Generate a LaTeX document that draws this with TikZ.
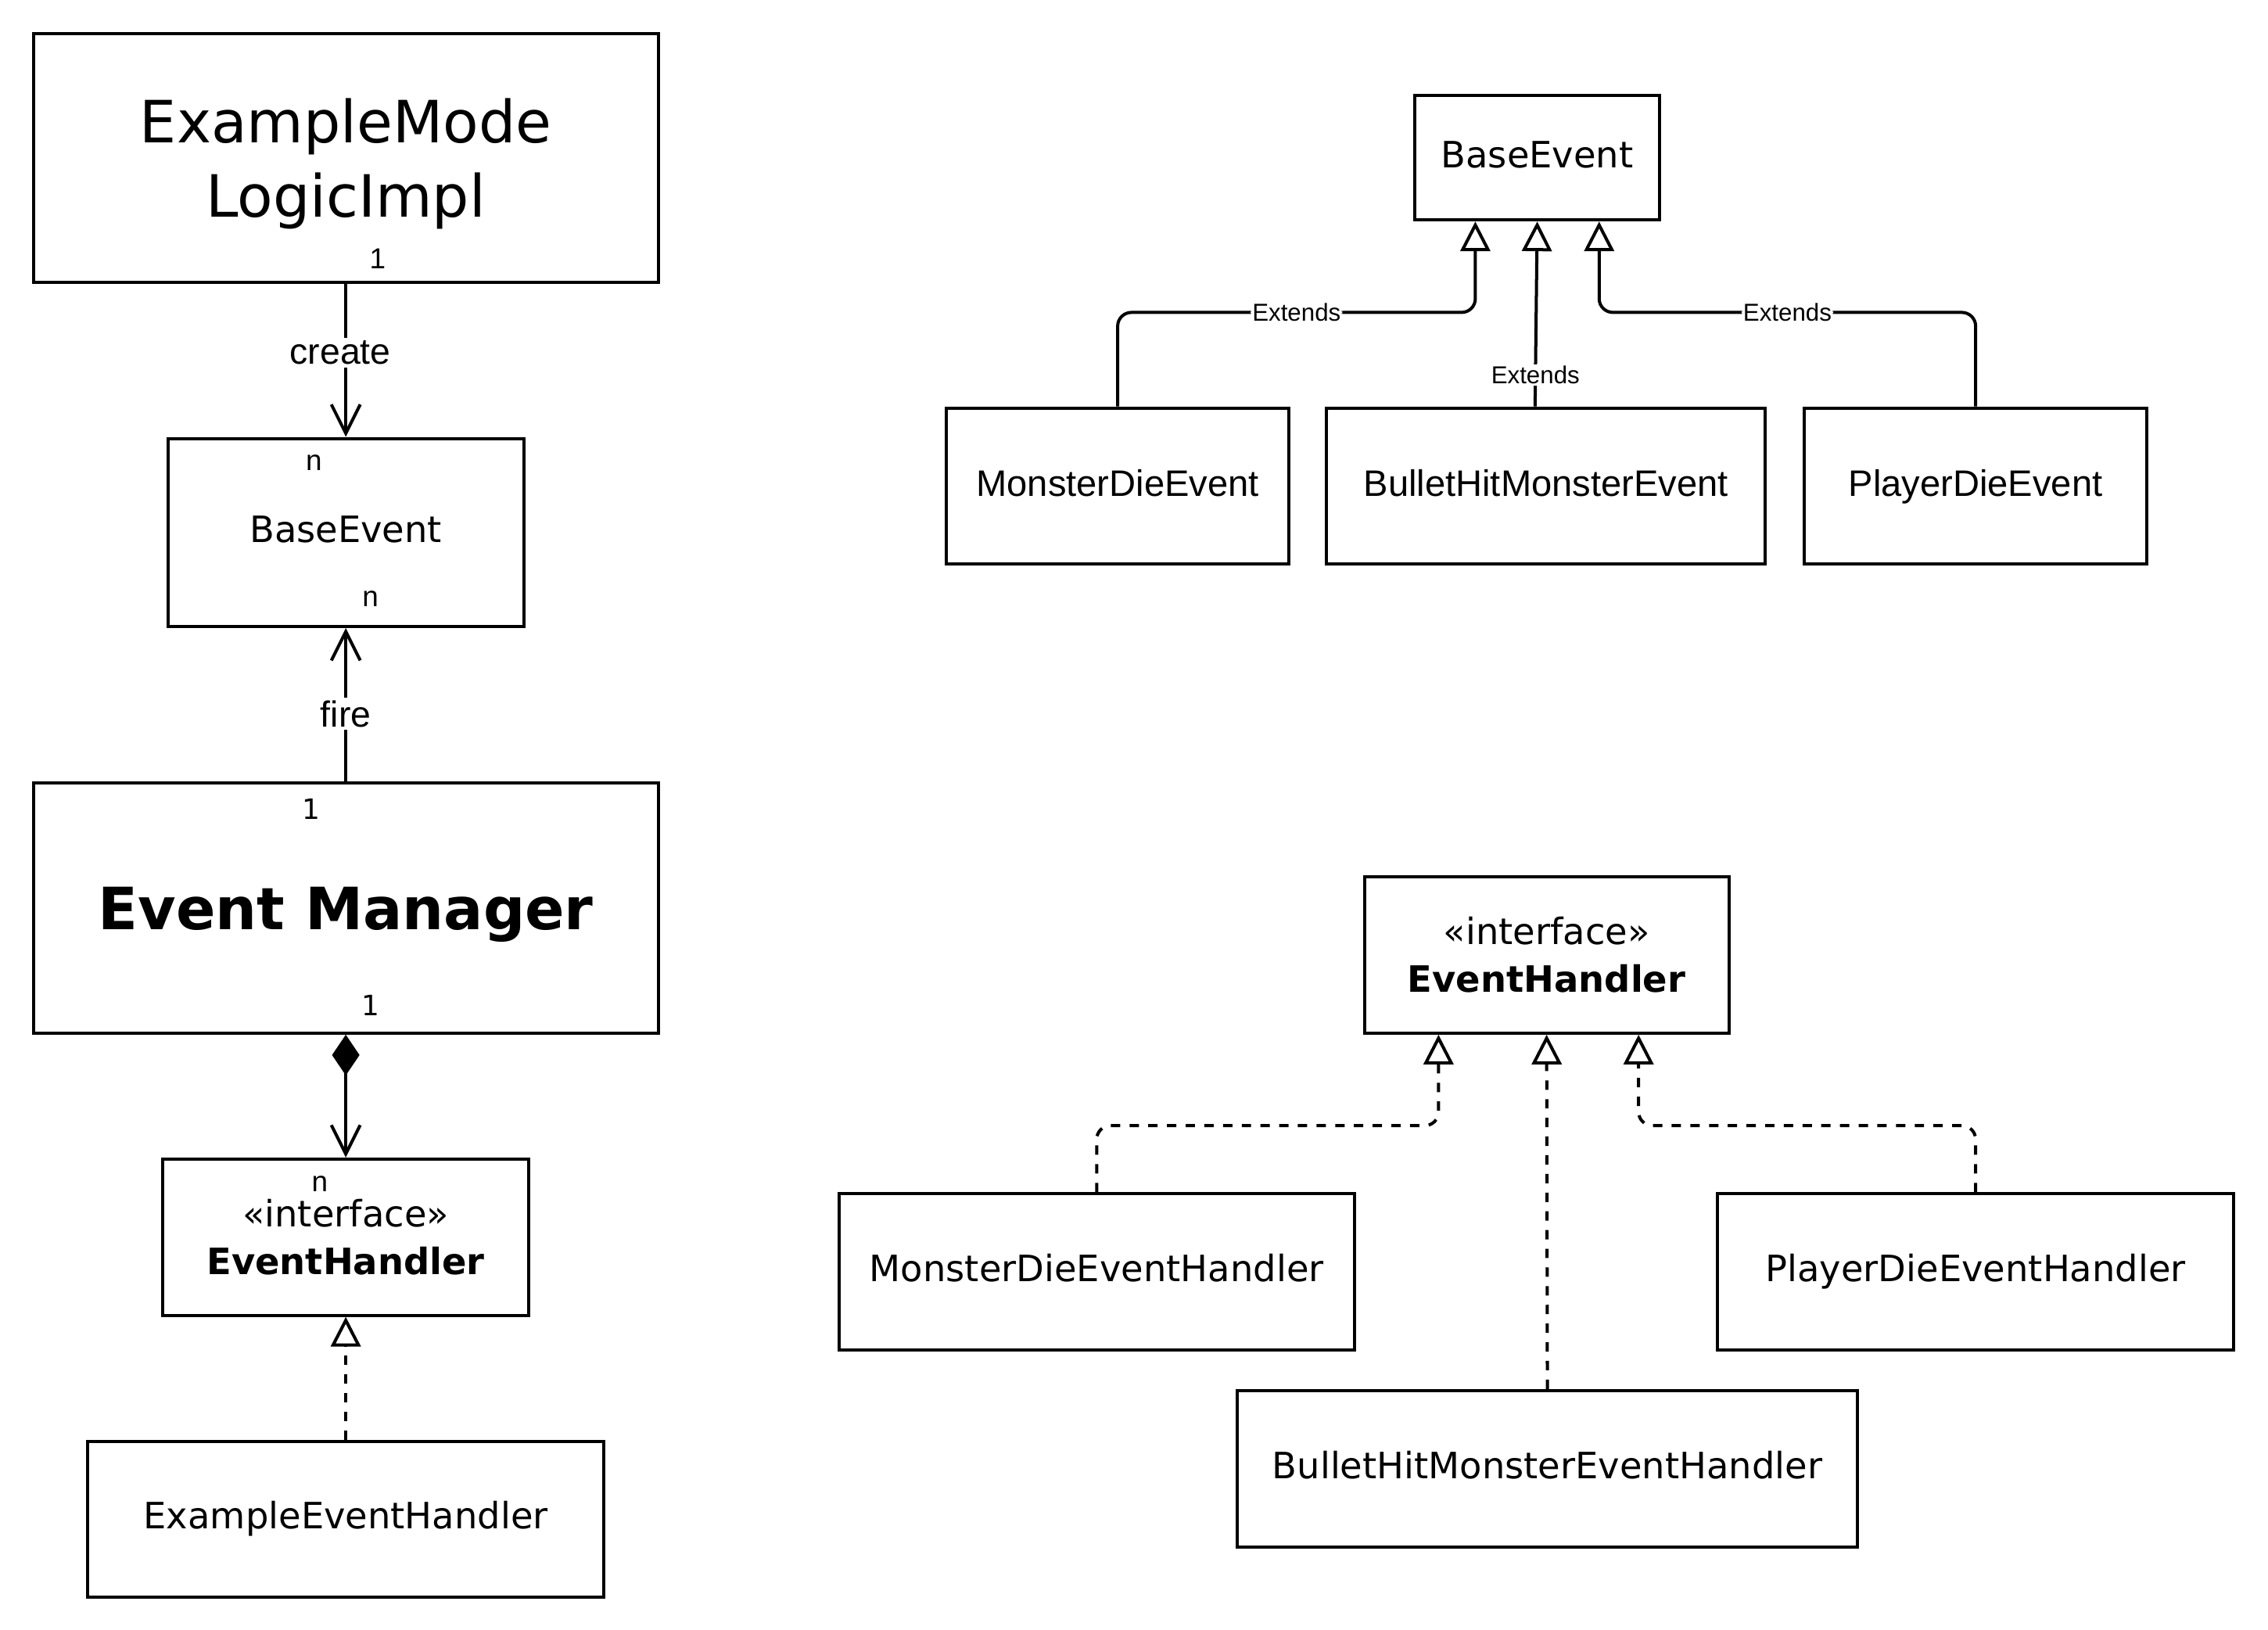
\documentclass[tikz,border=0pt]{standalone}
\usepackage{fontspec}
\setmainfont{DejaVu Sans}
\newfontfamily\arialfont{Liberation Sans}
\usetikzlibrary{arrows.meta,calc}

\begin{document}
\begin{tikzpicture}[x=0.0185cm,y=-0.0185cm,
  box/.style={draw, line width=1.14pt, inner sep=0pt, align=center, font=\fontsize{13.2}{17.4}\selectfont},
  boxsize/.style 2 args={minimum width=#1*0.0185cm, minimum height=#2*0.0185cm},
  oneline/.style={text height=0.94em, text depth=0.23em},
  evbox/.style={box, oneline, font=\arialfont\fontsize{13.4}{16}\selectfont},
  mult/.style={font=\arialfont\fontsize{10.5}{12}\selectfont, inner sep=0pt},
  multdv/.style={font=\fontsize{10.2}{12}\selectfont, inner sep=0pt},
  lbl/.style={font=\arialfont\fontsize{13.2}{15}\selectfont, fill=white, inner sep=1pt},
  extlbl/.style={font=\arialfont\fontsize{8.9}{10}\selectfont, fill=white, inner sep=0.6pt},
  conn/.style={line width=1.14pt},
  assoc/.style={conn, -{Straight Barb[length=10.5pt,width=10.5pt]}},
  comp/.style={conn, {Diamond[length=14.8pt,width=10pt]}-{Straight Barb[length=10.5pt,width=10.5pt]}},
  ext/.style={conn, rounded corners=5pt, -{Triangle[length=10.8pt,width=10.8pt,fill=white]}},
  impl/.style={ext, dash pattern=on 3.4pt off 3.4pt}]
  \useasboundingbox (0,0) rectangle (1567.6,1126.5);

  % left column
  \node[box, boxsize={432}{172}, text depth=0pt, font=\fontsize{21.2}{26.8}\selectfont] (eml) at (239,109) {ExampleMode\\LogicImpl};
  \node[box, oneline, boxsize={246}{130}] (bel) at (239,368) {BaseEvent};
  \node[box, boxsize={432}{173}, text depth=0pt, font=\bfseries\fontsize{21.2}{25}\selectfont] (em) at (239,627.5) {Event Manager};
  \node[box, boxsize={253}{108}] (ehl) at (239,855) {«interface»\\\textbf{EventHandler}};
  \node[box, oneline, boxsize={357}{108}] (eeh) at (239,1050) {ExampleEventHandler};

  \node[mult] (m1) at (261,179) {1};
  \node[mult] (m2) at (217,320) {n};
  \node[mult] (m3) at (256,414) {n};
  \node[multdv] (m4) at (215,559) {1};
  \node[multdv] (m5) at (256,695) {1};
  \node[mult] (m6) at (221,818) {n};

  \draw[assoc] (eml.south) -- node[lbl, pos=0.45, xshift=-0.07cm]{create} (bel.north);
  \draw[assoc] (em.north) -- node[lbl, pos=0.44]{fire} (bel.south);
  \draw[comp] (em.south) -- (ehl.north);
  \draw[impl] (eeh.north) -- (ehl.south);

  % events
  \node[box, oneline, boxsize={169}{86}] (ber) at (1062.5,109) {BaseEvent};
  \node[evbox, boxsize={237}{108}] (mde) at (772.5,336) {MonsterDieEvent};
  \node[evbox, boxsize={303}{108}] (bhme) at (1068.5,336) {BulletHitMonsterEvent};
  \node[evbox, boxsize={237}{108}] (pde) at (1365.5,336) {PlayerDieEvent};

  \coordinate (berL) at ($(ber.south west)!0.25!(ber.south east)$);
  \coordinate (berR) at ($(ber.south west)!0.75!(ber.south east)$);
  \coordinate (bhmeT) at ($(bhme.north)+(-7.5,0)$);
  \draw[ext] (mde.north) -- ++(0,-65) -| node[extlbl, pos=0.25]{Extends} (berL);
  \draw[ext] (bhmeT) -- node[extlbl, pos=0.17]{Extends} (ber.south);
  \draw[ext] (pde.north) -- ++(0,-65) -| node[extlbl, pos=0.25]{Extends} (berR);

  % handlers
  \node[box, boxsize={252}{108}] (ehr) at (1069,660) {«interface»\\\textbf{EventHandler}};
  \node[box, oneline, boxsize={356}{108}] (mdeh) at (758,879) {MonsterDieEventHandler};
  \node[box, oneline, boxsize={429}{108}] (bhmeh) at (1069.5,1015) {BulletHitMonsterEventHandler};
  \node[box, oneline, boxsize={357}{108}] (pdeh) at (1365.5,879) {PlayerDieEventHandler};

  \coordinate (ehrL) at ($(ehr.south west)!0.206!(ehr.south east)$);
  \coordinate (ehrR) at ($(ehr.south west)!0.75!(ehr.south east)$);
  \draw[impl] (mdeh.north) -- ++(0,-46) -| (ehrL);
  \draw[impl] (bhmeh.north) -- (ehr.south);
  \draw[impl] (pdeh.north) -- ++(0,-46) -| (ehrR);
\end{tikzpicture}
\end{document}
